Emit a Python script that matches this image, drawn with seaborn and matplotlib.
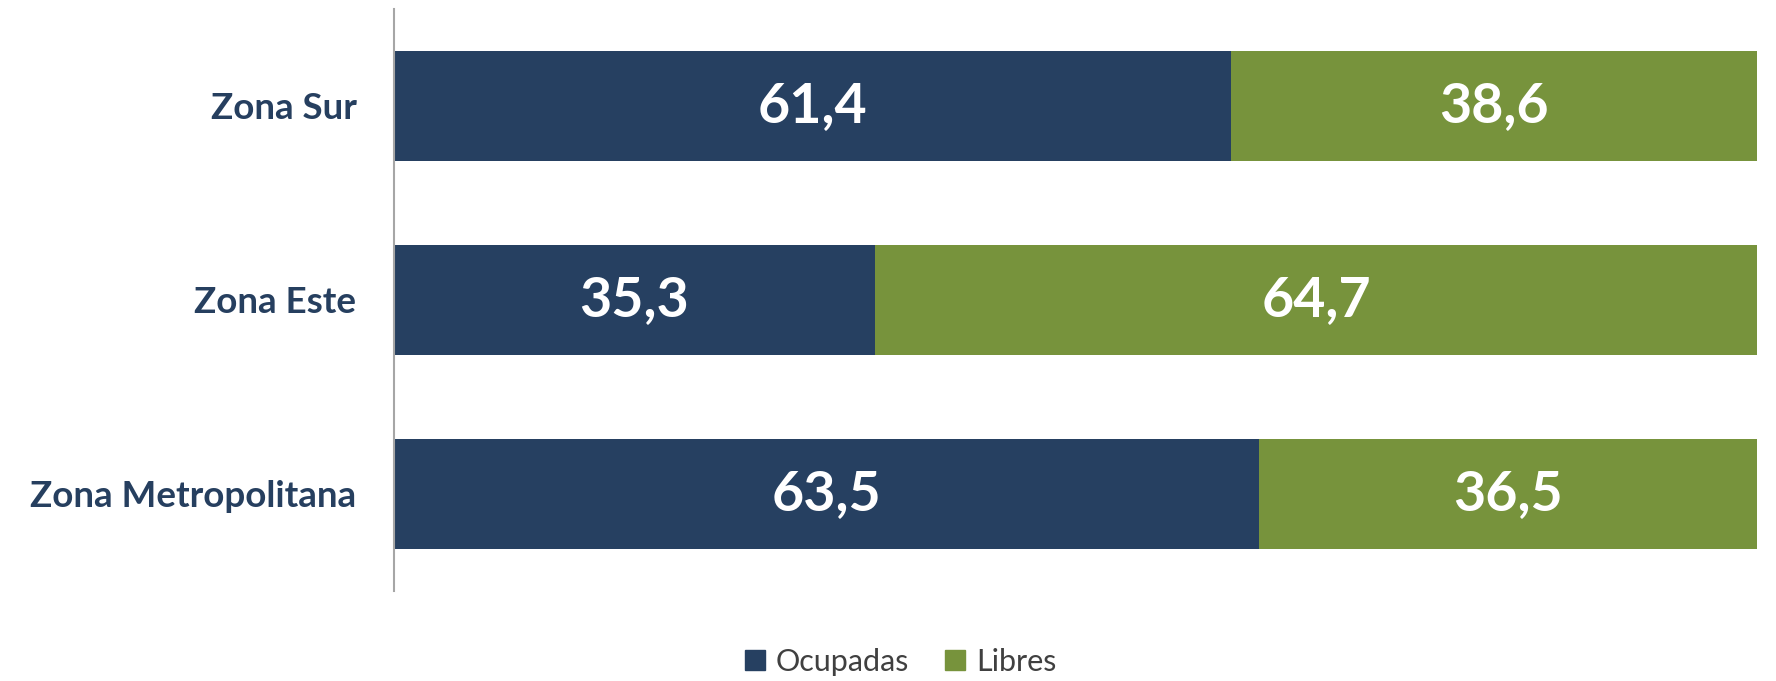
import pandas as pd
import matplotlib
matplotlib.use("Agg")
import matplotlib.pyplot as plt
from matplotlib.patches import Patch
import seaborn as sb

zonas = ["Zona Sur", "Zona Este", "Zona Metropolitana"]
ocupadas = [61.4, 35.3, 63.5]
libres = [38.6, 64.7, 36.5]

color_ocup = "#264061"
color_libre = "#77933C"

df = pd.DataFrame({"zona": zonas, "ocupadas": ocupadas, "libres": libres})
df["total"] = df["ocupadas"] + df["libres"]

sb.set_style("white")
plt.rcParams["font.family"] = ["Lato", "DejaVu Sans"]

fig = plt.figure(figsize=(17.76, 6.81), dpi=100)
ax = fig.add_axes([0.2218, 0.1322, 0.7675, 0.8546])

# stacked: total in green underneath, occupied in navy on top
sb.barplot(data=df, x="total", y="zona", color=color_libre, width=0.57,
           saturation=1, linewidth=0, ax=ax)
sb.barplot(data=df, x="ocupadas", y="zona", color=color_ocup, width=0.57,
           saturation=1, linewidth=0, ax=ax)

for i, row in df.iterrows():
    ax.text(row["ocupadas"] / 2, i, f"{row['ocupadas']:.1f}".replace(".", ","),
            ha="center", va="center", color="white", fontsize=40, fontweight="bold")
    ax.text(row["ocupadas"] + row["libres"] / 2, i,
            f"{row['libres']:.1f}".replace(".", ","),
            ha="center", va="center", color="white", fontsize=40, fontweight="bold")

ax.set_xlim(0, 100)
ax.set_ylim(2.5, -0.5)
ax.set_xlabel("")
ax.set_ylabel("")
ax.set_xticks([])
ax.tick_params(axis="y", length=0, pad=27)
for lbl in ax.get_yticklabels():
    lbl.set_fontsize(26.5)
    lbl.set_fontweight("bold")
    lbl.set_color("#263F5F")

for s in ["top", "right", "bottom"]:
    ax.spines[s].set_visible(False)
ax.spines["left"].set_color("#A6A6A6")
ax.spines["left"].set_linewidth(1.5)

handles = [Patch(color=color_ocup, label="Ocupadas"),
           Patch(color=color_libre, label="Libres")]
fig.legend(handles=handles, loc="center", bbox_to_anchor=(0.507, 0.028), ncol=2,
           frameon=False, fontsize=22, handlelength=0.65, handleheight=0.65,
           handletextpad=0.35, columnspacing=1.2, labelcolor="#404040")

plt.savefig("out.png", dpi=100)
